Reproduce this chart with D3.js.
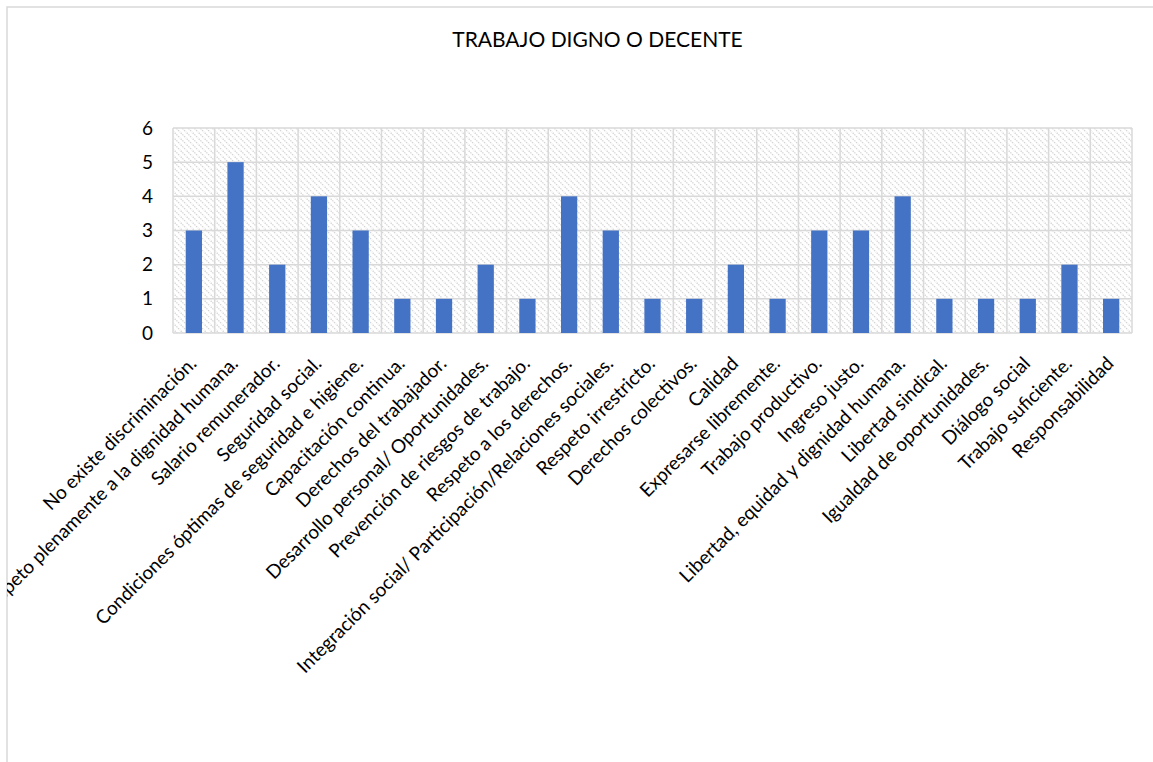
<!DOCTYPE html>
<html>
<head>
<meta charset="utf-8">
<script src="https://cdn.jsdelivr.net/npm/d3@7"></script>
<style>
  html, body { margin: 0; padding: 0; background: #ffffff; }
  svg { display: block; }
  text { font-family: Lato, "Open Sans", sans-serif; fill: #000; }
</style>
</head>
<body>
<svg id="chart" width="1153" height="762"></svg>
<script>
const title = "TRABAJO DIGNO O DECENTE";
const categories = [
  "No existe discriminación.",
  "Respeto plenamente a la dignidad humana.",
  "Salario remunerador.",
  "Seguridad social.",
  "Condiciones óptimas de seguridad e higiene.",
  "Capacitación continua.",
  "Derechos del trabajador.",
  "Desarrollo personal/ Oportunidades.",
  "Prevención de riesgos de trabajo.",
  "Respeto a los derechos.",
  "Integración social/ Participación/Relaciones sociales.",
  "Respeto irrestricto.",
  "Derechos colectivos.",
  "Calidad",
  "Expresarse libremente.",
  "Trabajo productivo.",
  "Ingreso justo.",
  "Libertad, equidad y dignidad humana.",
  "Libertad sindical.",
  "Igualdad de oportunidades.",
  "Diálogo social",
  "Trabajo suficiente.",
  "Responsabilidad"
];
const values = [3, 5, 2, 4, 3, 1, 1, 2, 1, 4, 3, 1, 1, 2, 1, 3, 3, 4, 1, 1, 1, 2, 1];
const yTicks = [0, 1, 2, 3, 4, 5, 6];

const svg = d3.select("#chart");
const plot = { left: 173, right: 1132, top: 128, bottom: 333 };
const grid = "#d9d9d9";

const defs = svg.append("defs");
const pat = defs.append("pattern")
  .attr("id", "hatch")
  .attr("patternUnits", "userSpaceOnUse")
  .attr("width", 6).attr("height", 6);
pat.append("rect").attr("width", 6).attr("height", 6).attr("fill", "#ffffff");
pat.append("path")
  .attr("d", "M-1,-1 L7,7 M-1,5 L1,7 M5,-1 L7,1")
  .attr("stroke", "#d4d4d4").attr("stroke-width", 1.3)
  .attr("stroke-dasharray", "1.4,1");

defs.append("clipPath").attr("id", "frameClip")
  .append("rect").attr("x", 7).attr("y", 7).attr("width", 1200).attr("height", 800);

// chart frame
svg.append("rect")
  .attr("x", 7).attr("y", 7).attr("width", 1200).attr("height", 800)
  .attr("fill", "#ffffff").attr("stroke", grid).attr("stroke-width", 1.5);

const x = d3.scaleBand().domain(categories)
  .range([plot.left, plot.right]).paddingInner(0).paddingOuter(0);
const y = d3.scaleLinear().domain([0, 6]).range([plot.bottom, plot.top]);

// plot background
svg.append("rect")
  .attr("x", plot.left).attr("y", plot.top)
  .attr("width", plot.right - plot.left).attr("height", plot.bottom - plot.top)
  .attr("fill", "url(#hatch)");

// gridlines
const gh = svg.append("g");
gh.selectAll("line.h").data(yTicks).join("line")
  .attr("x1", plot.left).attr("x2", plot.right)
  .attr("y1", d => y(d)).attr("y2", d => y(d))
  .attr("stroke", grid).attr("stroke-width", 1.5);
const bounds = categories.map(c => x(c)).concat([plot.right]);
gh.selectAll("line.v").data(bounds).join("line")
  .attr("x1", d => d).attr("x2", d => d)
  .attr("y1", plot.top).attr("y2", plot.bottom)
  .attr("stroke", grid).attr("stroke-width", 1.5);

// bars
const bw = x.bandwidth() * 0.39;
svg.append("g").selectAll("rect").data(values).join("rect")
  .attr("x", (d, i) => x(categories[i]) + x.bandwidth() / 2 - bw / 2)
  .attr("width", bw)
  .attr("y", d => y(d))
  .attr("height", d => y(0) - y(d))
  .attr("fill", "#4472C4");

// y axis labels
const yAxis = d3.axisLeft(y).tickValues(yTicks).tickSize(0).tickPadding(20).tickFormat(d3.format("d"));
const ya = svg.append("g").attr("transform", `translate(${plot.left},0)`).call(yAxis);
ya.select(".domain").remove();
ya.selectAll("text").style("font-size", "19px").style("font-family", "Lato, sans-serif").attr("fill", "#000");

// x labels
const xl = svg.append("g").attr("clip-path", "url(#frameClip)");
xl.selectAll("text").data(categories).join("text")
  .attr("transform", d => `translate(${x(d) + x.bandwidth() / 2 - 1},360) rotate(-45)`)
  .attr("text-anchor", "end")
  .attr("dy", "0.35em")
  .style("font-size", "19px")
  .text(d => d);

// title
svg.append("text")
  .attr("x", 597.5).attr("y", 47)
  .attr("text-anchor", "middle")
  .style("font-size", "21px")
  .text(title);
</script>
</body>
</html>
